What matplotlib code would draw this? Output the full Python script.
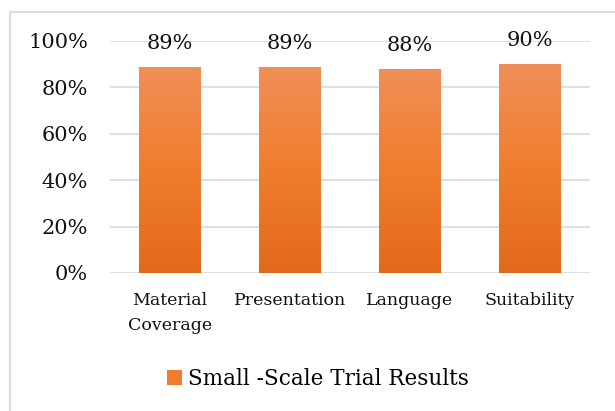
import numpy as np
import matplotlib
matplotlib.use('Agg')
import matplotlib.pyplot as plt
from matplotlib.colors import LinearSegmentedColormap
from matplotlib.patches import Rectangle, Patch

categories = ['Material\nCoverage', 'Presentation', 'Language', 'Suitability']
values = [0.89, 0.89, 0.88, 0.90]
value_labels = ['89%', '89%', '88%', '90%']
yticks = [0, 0.2, 0.4, 0.6, 0.8, 1.0]
ytick_labels = ['0%', '20%', '40%', '60%', '80%', '100%']
series_name = 'Small -Scale Trial Results'

plt.rcParams['font.family'] = ['DejaVu Serif']

fig = plt.figure(figsize=(6.15, 4.11), dpi=100)
ax = fig.add_axes([0.179, 1 - 273 / 411, 0.78, 232 / 411])

# chart area border (cut off on right / bottom)
fig.patches.append(Rectangle((9.5 / 615, -0.1), 1.2, 1 - 12 / 411 + 0.1,
                             transform=fig.transFigure, fill=False,
                             edgecolor='#D9DCE0', lw=1.5))

x = np.arange(len(categories))
bars = ax.bar(x, values, width=0.51, color='none', edgecolor='none', zorder=3)

grad = LinearSegmentedColormap.from_list('og', ['#E3691A', '#F07D2E', '#F08F58'])
g = np.linspace(0, 1, 256).reshape(-1, 1)
for b in bars:
    x0, y0 = b.get_x(), b.get_y()
    im = ax.imshow(g, cmap=grad, origin='lower', aspect='auto',
                   extent=[x0, x0 + b.get_width(), y0, y0 + b.get_height()],
                   zorder=3)
    im.set_clip_path(b)

for xi, v, t in zip(x, values, value_labels):
    ax.text(xi, v + 0.1, t, ha='center', va='center', fontsize=15, color='#111111')

ax.set_xlim(-0.5, 3.5)
ax.set_ylim(0, 1)
ax.set_yticks(yticks)
ax.set_yticklabels(ytick_labels, fontsize=15, color='#111111')
ax.set_xticks(x)
ax.set_xticklabels(categories, fontsize=12.5, color='#111111', linespacing=1.6)
ax.tick_params(axis='y', length=0, pad=16)
ax.tick_params(axis='x', length=0, pad=14)
ax.grid(axis='y', color='#DADDE1', lw=1.3, zorder=0)
for s in ax.spines.values():
    s.set_visible(False)

fig.legend(handles=[Patch(facecolor='#F07D2E', edgecolor='none')],
           labels=[series_name], loc='center', bbox_to_anchor=(0.517, 1 - 379 / 411),
           frameon=False, fontsize=15.5, handlelength=0.7, handleheight=0.7,
           handletextpad=0.3)

fig.savefig('out.png', dpi=100)
